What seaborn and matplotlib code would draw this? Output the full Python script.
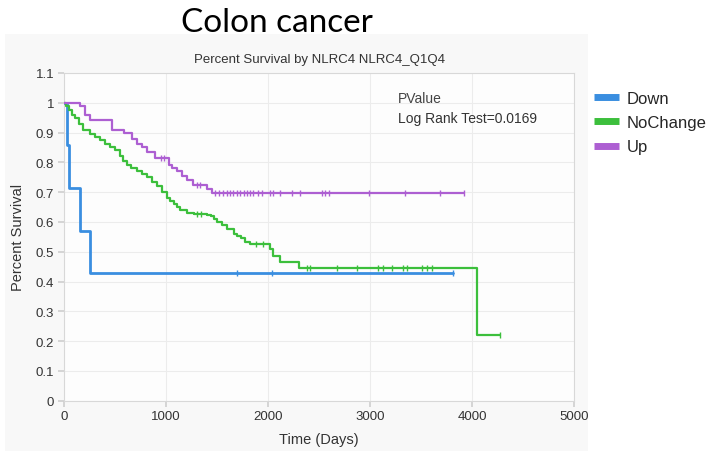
import numpy as np
import pandas as pd
import matplotlib
matplotlib.use("Agg")
import matplotlib.pyplot as plt
from matplotlib.lines import Line2D
from matplotlib.patches import Rectangle
import seaborn as sns

# ---------------- data ----------------
groups = ["Down", "NoChange", "Up"]

down_t = [0, 25, 50, 160, 250, 3817]
down_s = [1.0, 0.857, 0.714, 0.571, 0.429, 0.429]
down_cens = [1700, 2040, 3817]

nochange_t = [0, 20, 50, 80, 110, 150, 190, 250, 300, 354, 400, 453, 500, 551,
              580, 617, 660, 715, 760, 813, 860, 912, 960, 1010, 1040, 1076,
              1110, 1141, 1207, 1273, 1404, 1437, 1470, 1502, 1550, 1600, 1666,
              1693, 1732, 1775, 1824, 2020, 2052, 2118, 2306, 4046, 4275]
nochange_s = [1.0, 0.99, 0.975, 0.96, 0.95, 0.93, 0.91, 0.895, 0.885, 0.875,
              0.86, 0.85, 0.84, 0.82, 0.805, 0.79, 0.78, 0.77, 0.76, 0.75,
              0.735, 0.72, 0.70, 0.68, 0.67, 0.66, 0.65, 0.64, 0.63, 0.627,
              0.625, 0.62, 0.61, 0.60, 0.59, 0.576, 0.56, 0.554, 0.545, 0.532,
              0.526, 0.509, 0.487, 0.467, 0.444, 0.222, 0.222]
nochange_cens = [1300, 1340, 1880, 1950, 2379, 2412, 2673, 2869, 3082, 3131,
                 3213, 3327, 3360, 3507, 3556, 3605, 4275]

up_t = [0, 157, 207, 256, 469, 584, 666, 715, 764, 813, 895, 1027, 1060, 1108,
        1158, 1207, 1266, 1404, 1453, 3925]
up_s = [1.0, 0.99, 0.96, 0.943, 0.91, 0.90, 0.88, 0.86, 0.85, 0.835, 0.814,
        0.79, 0.78, 0.77, 0.755, 0.74, 0.725, 0.71, 0.696, 0.696]
up_cens = [950, 980, 1300, 1330, 1480, 1520, 1560, 1600, 1630, 1660, 1700,
           1730, 1760, 1790, 1820, 1856, 1905, 1938, 2020, 2052, 2118, 2232,
           2314, 2529, 2562, 2595, 2987, 3346, 3683, 3925]

colors = {"Down": "#3a8ee0", "NoChange": "#3cbf3c", "Up": "#ad5fd2"}

x_ticks = [0, 1000, 2000, 3000, 4000, 5000]
y_ticks = [0, 0.1, 0.2, 0.3, 0.4, 0.5, 0.6, 0.7, 0.8, 0.9, 1, 1.1]
y_tick_labels = ["0", "0.1", "0.2", "0.3", "0.4", "0.5", "0.6", "0.7", "0.8",
                 "0.9", "1", "1.1"]

# ---------------- build frames ----------------
curves = {"Down": (down_t, down_s, down_cens),
          "NoChange": (nochange_t, nochange_s, nochange_cens),
          "Up": (up_t, up_s, up_cens)}

line_rows = []
cens_rows = []
for g, (tt, ss, cc) in curves.items():
    for t, s in zip(tt, ss):
        line_rows.append({"group": g, "time": t, "surv": s})
    for c in cc:
        idx = np.searchsorted(np.array(tt), c, side="right") - 1
        cens_rows.append({"group": g, "time": c, "surv": ss[idx]})
lines_df = pd.DataFrame(line_rows)
cens_df = pd.DataFrame(cens_rows)

# ---------------- figure ----------------
sns.set_theme(style="white")
plt.rcParams["font.family"] = ["Liberation Sans", "DejaVu Sans"]

W, H = 711, 452
fig = plt.figure(figsize=(W / 100, H / 100), dpi=100)
fig.patch.set_facecolor("white")
fig.add_artist(Rectangle((5 / W, 0), 583 / W, 1 - 35 / H, transform=fig.transFigure,
                         facecolor="#f8f8f8", edgecolor="none", zorder=-10))

ax = fig.add_axes([64 / W, 1 - 401.7 / H, (574 - 64) / W, (401.7 - 74) / H])
ax.set_facecolor("#fdfdfd")

for g in groups:
    sub = lines_df[lines_df["group"] == g]
    sns.lineplot(data=sub, x="time", y="surv", color=colors[g], ax=ax,
                 estimator=None, sort=False, drawstyle="steps-post",
                 linewidth=2.0 if g == "Down" else 1.6, legend=False, zorder=3)
    csub = cens_df[cens_df["group"] == g]
    sns.scatterplot(data=csub, x="time", y="surv", color=colors[g], ax=ax,
                    marker="|", s=22, linewidth=1.0, legend=False, zorder=4)

ax.set_xlim(0, 5000)
ax.set_ylim(0, 1.1)
ax.set_xticks(x_ticks)
ax.set_yticks(y_ticks)
ax.set_yticklabels(y_tick_labels)
ax.grid(True, color="#ececec", linewidth=0.8)
for sp in ax.spines.values():
    sp.set_color("#d8d8d8")
    sp.set_linewidth(0.8)
ax.tick_params(axis="both", which="major", length=4, color="#d0d0d0",
               labelsize=9.5, labelcolor="#333333", pad=3)
ax.tick_params(axis="y", direction="out", left=True)
ax.tick_params(axis="x", direction="out", bottom=True)

ax.set_xlabel("Time (Days)", fontsize=10.5, color="#333333", labelpad=7)
ax.set_ylabel("Percent Survival", fontsize=10.5, color="#333333", labelpad=8)

ax.set_title("Percent Survival by NLRC4 NLRC4_Q1Q4", fontsize=9.5, color="#333333",
             pad=8)

fig.text(277 / W, 1 - 23 / H, "Colon cancer", fontsize=24, ha="center", va="center",
         color="black", family=["Lato", "DejaVu Sans"])

ax.text(398 / W, 1 - 99 / H, "PValue", transform=fig.transFigure, fontsize=10,
        color="#444444", va="center", ha="left")
ax.text(398 / W, 1 - 119 / H, "Log Rank Test=0.0169", transform=fig.transFigure,
        fontsize=10, color="#333333", va="center", ha="left")

handles = [Line2D([0], [0], color=colors[g], linewidth=5, solid_capstyle="butt")
           for g in groups]
fig.legend(handles, groups, loc="upper left", bbox_to_anchor=(594 / W, 1 - 92 / H),
           frameon=False, handlelength=1.5, handletextpad=0.45,
           labelspacing=0.55, borderaxespad=0, borderpad=0,
           prop={"family": ["Liberation Sans", "DejaVu Sans"], "size": 12})

fig.savefig("out.png", dpi=100)
